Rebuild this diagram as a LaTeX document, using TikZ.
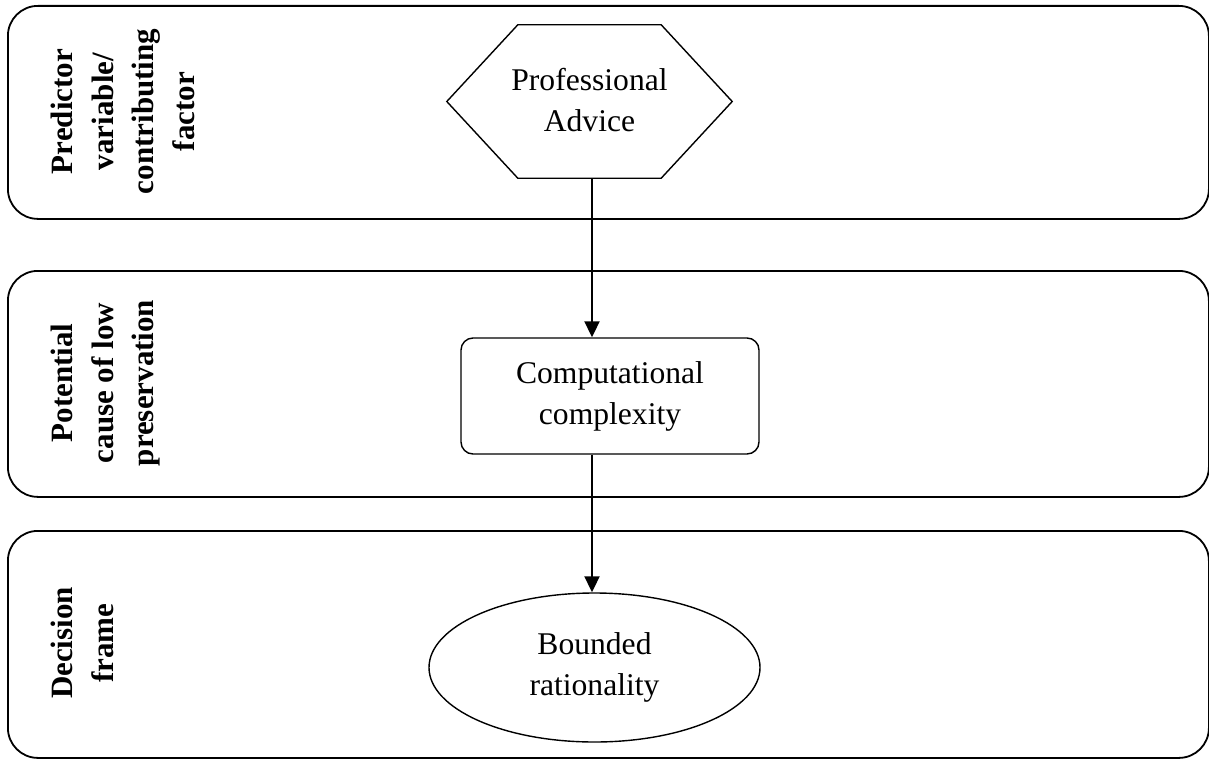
\documentclass[tikz,border=0pt]{standalone}
\usepackage{fontspec}
\setmainfont{Liberation Serif}
\usetikzlibrary{arrows.meta,shapes.geometric}
\begin{document}
\begin{tikzpicture}[x=1pt,y=-1pt,
  lane/.style={draw, line width=1.8pt, rounded corners=30pt, anchor=north west, inner sep=0pt},
  shapeline/.style={draw, line width=1.4pt},
  txt/.style={font=\fontsize{31.6}{41}\selectfont, align=center},
  lanelabel/.style={font=\fontsize{31}{40.5}\selectfont\bfseries, align=center, rotate=90, anchor=north, inner sep=0pt},
  flow/.style={line width=2pt, -{Triangle[length=16pt,width=15pt]}}]
\useasboundingbox (0,0) rectangle (1209,760);

% lanes
\node[lane, minimum width=1201pt, minimum height=213pt] (lane1) at (7,5) {};
\node[lane, minimum width=1201pt, minimum height=226pt] (lane2) at (7,270) {};
\node[lane, minimum width=1201pt, minimum height=227pt] (lane3) at (7,530) {};

% lane labels
\node[lanelabel] (l1) at (51,111.5) {Predictor\\variable/\\contributing\\factor};
\node[lanelabel] (l2) at (51,383) {Potential\\cause of low\\preservation};
\node[lanelabel] (l3) at (51,643) {Decision\\frame};

% hexagon
\node[txt, minimum width=285pt, minimum height=153pt, inner sep=0pt] (hex) at (589.5,100) {Professional\\Advice};
\draw[shapeline] ([yshift=-1.5pt]hex.west) -- ([xshift=71pt,yshift=-1.5pt]hex.north west) -- ([xshift=-71pt,yshift=-1.5pt]hex.north east)
  -- ([yshift=-1.5pt]hex.east) -- ([xshift=-71pt,yshift=-1.5pt]hex.south east) -- ([xshift=71pt,yshift=-1.5pt]hex.south west) -- cycle;

% box
\node[shapeline, rounded corners=12pt, minimum width=298pt, minimum height=116pt, txt] (box) at (610,396) {Computational\\complexity};

% ellipse
\node[shapeline, ellipse, minimum width=331pt, minimum height=149pt, inner sep=0pt, txt] (ell) at (594.5,667.5) {Bounded\\rationality};

% arrows
\coordinate (ax) at (592,0);
\draw[flow] ([yshift=-1.5pt]hex.south -| ax) -- (box.north -| ax);
\draw[flow] (box.south -| ax) -- (ell.north -| ax);
\end{tikzpicture}
\end{document}
